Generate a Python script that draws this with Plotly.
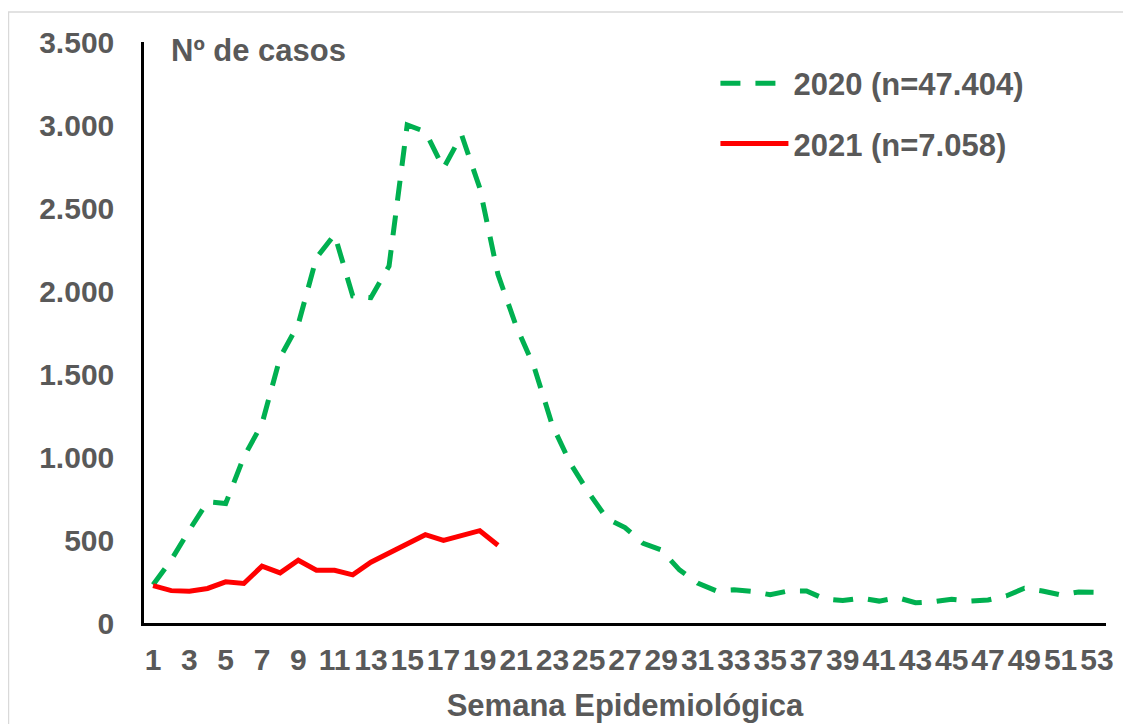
import plotly.graph_objects as go

weeks_2020 = list(range(1, 54))
cases_2020 = [230, 380, 560, 730, 720, 1000, 1200, 1600, 1800, 2200,
              2340, 1970, 1960, 2150, 3000, 2960, 2740, 2940, 2620, 2100,
              1790, 1540, 1190, 960, 785, 630, 575, 480, 440, 320,
              240, 195, 200, 190, 170, 193, 193, 145, 135, 150,
              132, 153, 122, 128, 143, 132, 139, 163, 209, 193,
              169, 187, 185]

weeks_2021 = list(range(1, 21))
cases_2021 = [225, 195, 192, 208, 248, 238, 342, 302, 378, 318,
              318, 290, 366, 422, 476, 532, 498, 528, 556, 468]

tick_weeks = list(range(1, 54, 2))
label_2020 = "2020 (n=47.404)"
label_2021 = "2021 (n=7.058)"

GRAY = "#595959"
FONT = "Liberation Sans, Arial, sans-serif"

fig = go.Figure()
fig.add_trace(go.Scatter(
    x=weeks_2020, y=cases_2020, mode="lines", name=label_2020,
    legendgroup="a",
    line=dict(color="#00B050", width=5, dash="20px,15px"),
))
fig.add_trace(go.Scatter(
    x=weeks_2021, y=cases_2021, mode="lines", name=label_2021,
    legendgroup="b",
    line=dict(color="#FF0000", width=5),
))

# page body has an 8px default margin, so the figure is sized/offset to compensate
fig.update_layout(
    width=1123, height=716,
    margin=dict(l=136, r=25, t=34, b=101, autoexpand=False),
    paper_bgcolor="white", plot_bgcolor="white",
    separators=",.",
    font=dict(family=FONT, size=30, color=GRAY),
    showlegend=True,
    legend=dict(
        x=0.594, xanchor="left", y=0.975, yanchor="top",
        font=dict(family=FONT, size=31, color=GRAY, weight="bold"),
        itemwidth=68, tracegroupgap=17, traceorder="grouped",
        bgcolor="rgba(0,0,0,0)", borderwidth=0,
    ),
    xaxis=dict(
        range=[0.5, 53.5], tickmode="array", tickvals=tick_weeks,
        tickangle=0, showgrid=False, zeroline=False, automargin=False,
        showline=True, linecolor="black", linewidth=2.5,
        ticks="", ticklabelstandoff=8,
        tickfont=dict(family=FONT, size=30, color=GRAY, weight="bold"),
        title=dict(text="Semana Epidemiológica", standoff=20,
                   font=dict(family=FONT, size=31, color=GRAY, weight="bold")),
    ),
    yaxis=dict(
        range=[0, 3500], dtick=500, tickformat=",d", automargin=False,
        showgrid=False, zeroline=False,
        showline=True, linecolor="black", linewidth=2.5,
        ticks="", ticklabelstandoff=21,
        tickfont=dict(family=FONT, size=30, color=GRAY, weight="bold"),
    ),
    annotations=[dict(
        text="Nº de casos", xref="paper", yref="paper",
        x=0.026, y=0.985, xanchor="left", yanchor="middle", showarrow=False,
        font=dict(family=FONT, size=31, color=GRAY, weight="bold"),
    )],
    shapes=[dict(
        type="rect", xref="paper", yref="paper",
        x0=-0.1409, x1=1.05, y0=-0.25, y1=1.0516,
        line=dict(color="#D9D9D9", width=1.5), layer="below",
    )],
)

fig.write_html("out.html")
